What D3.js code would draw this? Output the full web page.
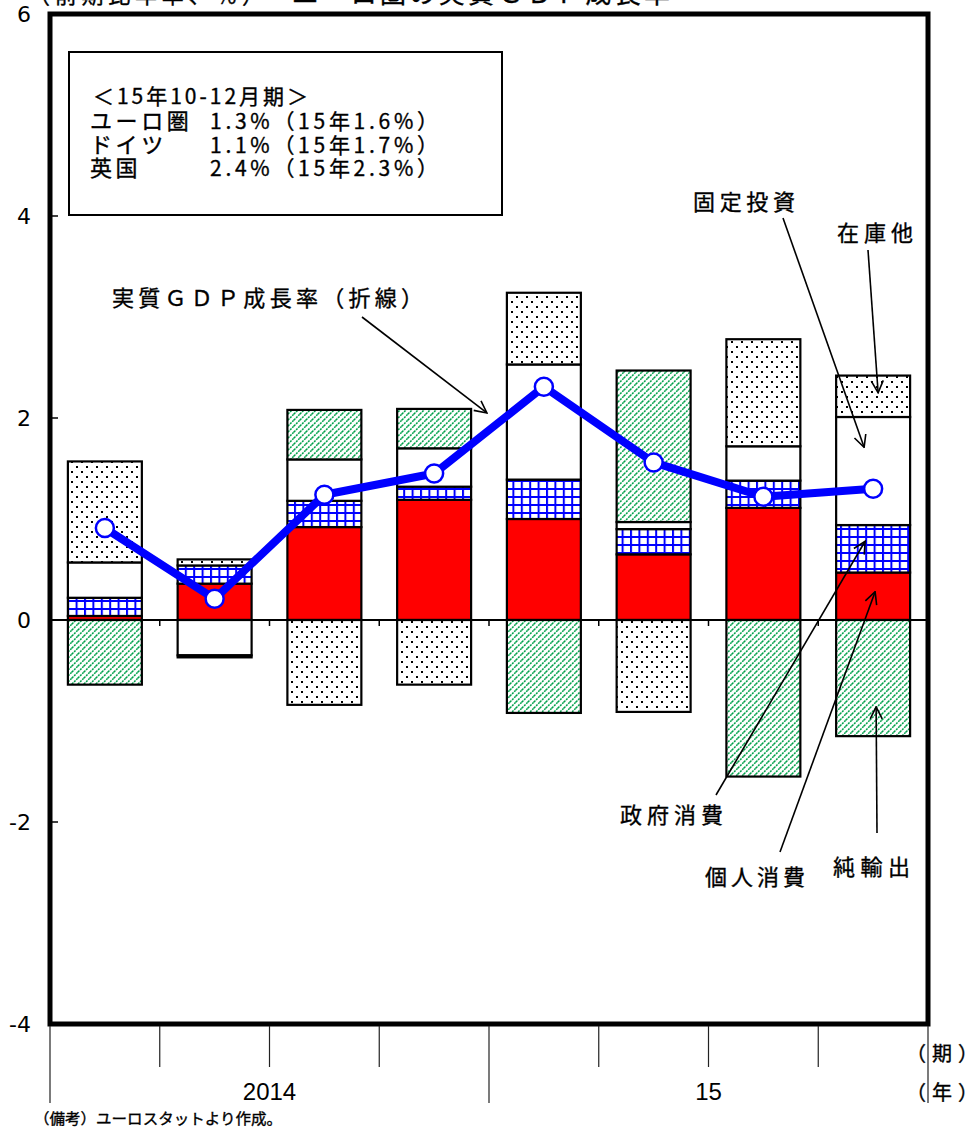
<!DOCTYPE html>
<html lang="ja">
<head>
<meta charset="utf-8">
<script src="https://cdn.jsdelivr.net/npm/d3@7/dist/d3.min.js"></script>
<style>
  html, body { margin: 0; padding: 0; background: #fff; }
  svg { display: block; }
  .jp {
    font-family: "Noto Sans CJK JP", "Noto Sans", sans-serif; fill: #000; stroke: #000; stroke-width: 0.35px;
    text-spacing-trim: space-all; font-feature-settings: "chws" 0, "halt" 0;
  }
  .num { font-family: "DejaVu Sans", "Liberation Sans", sans-serif; fill: #000; }
</style>
</head>
<body>
<svg id="chart" width="980" height="1127"></svg>
<script>
// Quarters and year labels
const quarters = ["2014Q1", "2014Q2", "2014Q3", "2014Q4", "2015Q1", "2015Q2", "2015Q3", "2015Q4"];
const years = ["2014", "15"];
const yTicks = [6, 4, 2, 0, -2, -4];

// Contributions to growth (annualised q/q, % points)
const consumption = [0.04, 0.36, 0.92, 1.19, 1.00, 0.65, 1.11, 0.47];
const government  = [0.18, 0.18, 0.26, 0.13, 0.39, 0.25, 0.27, 0.47];
const investment  = [0.35, -0.35, 0.41, 0.38, 1.14, 0.07, 0.34, 1.07];
const inventories = [1.00, 0.06, -0.84, -0.64, 0.71, -0.91, 1.06, 0.41];
const netExports  = [-0.64, -0.02, 0.49, 0.39, -0.92, 1.50, -1.55, -1.15];

// Real GDP growth (line)
const gdp = [0.91, 0.21, 1.24, 1.45, 2.31, 1.56, 1.22, 1.3];

// Box text
const boxTitle = "＜15年10-12月期＞";
const boxNames = ["ユーロ圏", "ドイツ", "英国"];
const boxValues = ["1.3%（15年1.6%）", "1.1%（15年1.7%）", "2.4%（15年2.3%）"];

const seriesKeys = ["consumption", "government", "investment", "inventories", "netExports"];
const seriesFill = {
  consumption: "#ff0000",
  government: "url(#grid)",
  investment: "#ffffff",
  inventories: "url(#dots)",
  netExports: "url(#hatch)"
};

const rows = quarters.map((q, i) => ({
  q,
  consumption: consumption[i],
  government: government[i],
  investment: investment[i],
  inventories: inventories[i],
  netExports: netExports[i]
}));

const svg = d3.select("#chart");
const plotLeft = 50, plotRight = 928, plotTop = 14, plotBottom = 1024;

const x = d3.scaleBand().domain(quarters).range([plotLeft, plotRight]).paddingInner(0.326).paddingOuter(0.163);
const y = d3.scaleLinear().domain([-4, 6]).range([plotBottom, plotTop]);
const bandStep = x.step();
const boundary = i => plotLeft + i * bandStep;

// ---- fill patterns ----
const defs = svg.append("defs");

const dots = defs.append("pattern").attr("id", "dots")
  .attr("patternUnits", "userSpaceOnUse").attr("width", 10).attr("height", 10);
dots.append("rect").attr("width", 10).attr("height", 10).attr("fill", "#fff");
dots.append("rect").attr("x", 1).attr("y", 1).attr("width", 2).attr("height", 2).attr("fill", "#000");
dots.append("rect").attr("x", 6).attr("y", 6).attr("width", 2).attr("height", 2).attr("fill", "#000");

const grid = defs.append("pattern").attr("id", "grid")
  .attr("patternUnits", "userSpaceOnUse").attr("width", 8.4).attr("height", 8);
grid.append("rect").attr("width", 8.4).attr("height", 8).attr("fill", "#fff");
grid.append("rect").attr("x", 0).attr("y", 0).attr("width", 2).attr("height", 8).attr("fill", "#0000ff");
grid.append("rect").attr("x", 0).attr("y", 0).attr("width", 8.4).attr("height", 2).attr("fill", "#0000ff");

const hatch = defs.append("pattern").attr("id", "hatch")
  .attr("patternUnits", "userSpaceOnUse").attr("width", 6).attr("height", 6);
hatch.append("rect").attr("width", 6).attr("height", 6).attr("fill", "#fff");
hatch.append("path").attr("d", "M-1,1 L1,-1 M0,6 L6,0 M5,7 L7,5")
  .attr("stroke", "#00a04a").attr("stroke-width", 1.5).attr("stroke-dasharray", "2,1");

// arrow head
defs.append("marker").attr("id", "arrow")
  .attr("viewBox", "0 0 14 14").attr("refX", 13).attr("refY", 7)
  .attr("markerWidth", 14).attr("markerHeight", 14)
  .attr("markerUnits", "userSpaceOnUse").attr("orient", "auto")
  .append("path").attr("d", "M1,1 L13,7 L1,13")
  .attr("fill", "none").attr("stroke", "#000").attr("stroke-width", 1.6);

// ---- stacked bars ----
const stack = d3.stack().keys(seriesKeys).offset(d3.stackOffsetDiverging);
const layers = stack(rows);

svg.append("g").selectAll("g").data(layers).join("g")
  .attr("fill", d => seriesFill[d.key])
  .selectAll("rect").data(d => d).join("rect")
  .attr("x", d => x(d.data.q))
  .attr("width", x.bandwidth())
  .attr("y", d => y(Math.max(d[0], d[1])))
  .attr("height", d => Math.abs(y(d[0]) - y(d[1])))
  .attr("stroke", "#000").attr("stroke-width", 2.2);

// zero line and its small ticks
svg.append("line").attr("x1", plotLeft).attr("x2", plotRight)
  .attr("y1", y(0)).attr("y2", y(0)).attr("stroke", "#000").attr("stroke-width", 2);
svg.append("g").selectAll("line").data(d3.range(1, quarters.length)).join("line")
  .attr("x1", i => boundary(i)).attr("x2", i => boundary(i))
  .attr("y1", y(0)).attr("y2", y(0) + 6)
  .attr("stroke", "#000").attr("stroke-width", 1.5);

// y axis inner ticks
svg.append("g").selectAll("line").data(yTicks.filter(t => t > -4 && t < 6)).join("line")
  .attr("x1", plotLeft).attr("x2", plotLeft + 8)
  .attr("y1", d => y(d)).attr("y2", d => y(d))
  .attr("stroke", "#000").attr("stroke-width", 1.5);

// y tick labels
svg.append("g").selectAll("text").data(yTicks).join("text")
  .attr("class", "num")
  .attr("x", 31).attr("y", d => y(d) + 8)
  .attr("text-anchor", "end")
  .attr("font-size", 22)
  .text(d => d < 0 ? "-" + Math.abs(d) : d);

// ---- GDP line ----
const cx = i => x(quarters[i]) + x.bandwidth() / 2;
svg.append("path")
  .datum(gdp)
  .attr("d", d3.line().x((d, i) => cx(i)).y(d => y(d)))
  .attr("fill", "none").attr("stroke", "#0000ff").attr("stroke-width", 8)
  .attr("stroke-linejoin", "round");
svg.append("g").selectAll("circle").data(gdp).join("circle")
  .attr("cx", (d, i) => cx(i)).attr("cy", d => y(d)).attr("r", 9)
  .attr("fill", "#fff").attr("stroke", "#0000ff").attr("stroke-width", 2.5);

// ---- plot frame ----
svg.append("rect").attr("x", plotLeft).attr("y", plotTop)
  .attr("width", plotRight - plotLeft).attr("height", plotBottom - plotTop)
  .attr("fill", "none").attr("stroke", "#000").attr("stroke-width", 5);

// ---- category axis below the frame ----
const xAxisG = svg.append("g");
xAxisG.selectAll("line").data(d3.range(0, quarters.length + 1)).join("line")
  .attr("x1", i => boundary(i)).attr("x2", i => boundary(i))
  .attr("y1", plotBottom + 2)
  .attr("y2", i => i % 4 === 0 ? 1103 : 1067)
  .attr("stroke", "#222").attr("stroke-width", 1.2);
xAxisG.selectAll("text").data(years).join("text")
  .attr("x", (d, i) => (boundary(i * 4) + boundary(i * 4 + 4)) / 2)
  .attr("y", 1100)
  .attr("text-anchor", "middle")
  .attr("font-family", "'Liberation Sans Narrow', 'Liberation Sans', sans-serif")
  .attr("font-size", 24)
  .text(d => d);

svg.append("text").attr("class", "jp").attr("x", 906).attr("y", 1061)
  .attr("font-size", 20).attr("textLength", 72).attr("lengthAdjust", "spacing").text("（期）");
svg.append("text").attr("class", "jp").attr("x", 906).attr("y", 1100)
  .attr("font-size", 20).attr("textLength", 72).attr("lengthAdjust", "spacing").text("（年）");

// footnote
svg.append("text").attr("class", "jp").attr("x", 34).attr("y", 1124)
  .attr("font-size", 15)
  .attr("textLength", 248).attr("lengthAdjust", "spacingAndGlyphs")
  .text("（備考）ユーロスタットより作成。");

// title (top edge)
svg.append("text").attr("class", "jp").attr("x", 28).attr("y", 3)
  .attr("font-size", 22).attr("textLength", 236).attr("lengthAdjust", "spacing")
  .text("（前期比年率、％）");
svg.append("text").attr("class", "jp").attr("x", 292).attr("y", 3)
  .attr("font-size", 26).attr("textLength", 378).attr("lengthAdjust", "spacing")
  .text("ユーロ圏の実質ＧＤＰ成長率");

// ---- info box ----
svg.append("rect").attr("x", 69).attr("y", 52).attr("width", 433).attr("height", 163)
  .attr("fill", "#fff").attr("stroke", "#000").attr("stroke-width", 2);
svg.append("text").attr("class", "jp").attr("x", 93).attr("y", 104)
  .attr("font-size", 21).attr("textLength", 215).attr("lengthAdjust", "spacing")
  .text(boxTitle);
boxNames.forEach((n, i) => {
  const by = 129 + i * 23.5;
  svg.append("text").attr("class", "jp").attr("x", 90).attr("y", by)
    .attr("font-size", 22).attr("letter-spacing", 3.6).text(n);
  svg.append("text").attr("class", "jp").attr("x", 210).attr("y", by)
    .attr("font-size", 21).attr("textLength", 228).attr("lengthAdjust", "spacing")
    .text(boxValues[i]);
});

// ---- annotations with arrows ----
const notes = [
  { text: "実質ＧＤＰ成長率（折線）", tx: 112, ty: 306, len: 311, from: [362, 317], qi: 4, dx: -57, v: 2.05 },
  { text: "固定投資", tx: 693, ty: 210, len: 102, from: [783, 218], qi: 7, dx: -9, v: 1.71 },
  { text: "在庫他", tx: 837, ty: 241, len: 76, from: [868, 250], qi: 7, dx: 5, v: 2.25 },
  { text: "政府消費", tx: 620, ty: 823, len: 103, from: [716, 795], qi: 7, dx: -8, v: 0.78 },
  { text: "個人消費", tx: 705, ty: 885, len: 100, from: [780, 852], qi: 7, dx: 2, v: 0.28 },
  { text: "純輸出", tx: 833, ty: 875, len: 77, from: [877, 833], qi: 7, dx: 3, v: -0.86 }
];
const noteG = svg.append("g");
noteG.selectAll("text").data(notes).join("text")
  .attr("class", "jp").attr("x", d => d.tx).attr("y", d => d.ty)
  .attr("font-size", 22).attr("textLength", d => d.len).attr("lengthAdjust", "spacing")
  .text(d => d.text);
noteG.selectAll("line").data(notes).join("line")
  .attr("x1", d => d.from[0]).attr("y1", d => d.from[1])
  .attr("x2", d => cx(d.qi) + d.dx).attr("y2", d => y(d.v))
  .attr("stroke", "#000").attr("stroke-width", 1.6)
  .attr("marker-end", "url(#arrow)");
</script>
</body>
</html>
